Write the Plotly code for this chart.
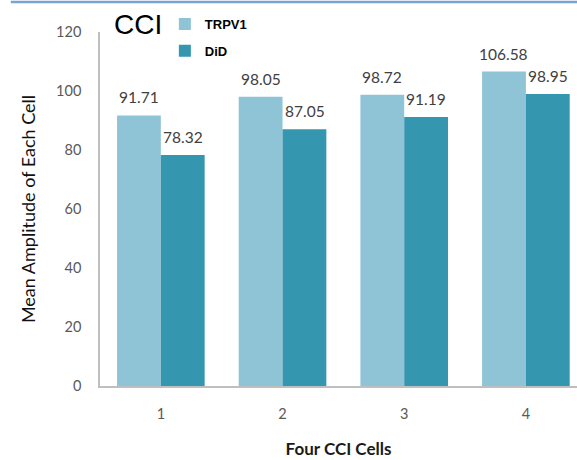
import plotly.graph_objects as go

# Mean amplitude per cell for the four CCI cells
cells = ["1", "2", "3", "4"]
trpv1 = [91.71, 98.05, 98.72, 106.58]
did = [78.32, 87.05, 91.19, 98.95]
y_ticks = [0, 20, 40, 60, 80, 100, 120]

LIGHT = "#8fc4d6"
DARK = "#3596b0"
BODY = "Lato, Carlito, sans-serif"
LABEL_FONT = dict(family=BODY, size=15.5, color="#404040")

fig = go.Figure()
fig.add_trace(go.Bar(
    x=cells, y=trpv1, name="TRPV1", legendgroup="a",
    marker=dict(color=LIGHT, line=dict(width=0)),
))
fig.add_trace(go.Bar(
    x=cells, y=did, name="DiD", legendgroup="b",
    marker=dict(color=DARK, line=dict(width=0)),
))

# value labels above each bar (left bar = TRPV1, right bar = DiD);
# on a category axis annotations are placed by category index
labels = []
for series, shift in ((trpv1, -22), (did, 22)):
    for i, v in enumerate(series):
        labels.append(dict(
            x=i, y=v, xref="x", yref="y", text=f"{v:.2f}",
            showarrow=False, xanchor="center", yanchor="bottom",
            xshift=shift, yshift=7, font=LABEL_FONT,
        ))

labels.append(dict(
    text="CCI", xref="paper", yref="paper", x=0.025, y=1.02,
    xanchor="left", yanchor="middle", showarrow=False,
    font=dict(family="Liberation Sans, Arial, sans-serif", size=28, color="black"),
))

fig.update_layout(
    width=577, height=460,
    margin=dict(l=100, r=0, t=32, b=74),
    paper_bgcolor="white", plot_bgcolor="white",
    barmode="group", bargap=0.28, bargroupgap=0,
    showlegend=True,
    legend=dict(
        x=0.136, y=1.065, xanchor="left", yanchor="top",
        font=dict(family="Liberation Sans, Arial, sans-serif", size=13, color="black", weight="bold"),
        bgcolor="rgba(0,0,0,0)", tracegroupgap=7, traceorder="grouped",
        itemwidth=30,
    ),
    xaxis=dict(
        type="category", range=[-0.5, 3.42],
        showline=True, linecolor="#bfbfbf", linewidth=1.5,
        showgrid=False, ticks="", ticklabelstandoff=14,
        tickfont=dict(family=BODY, size=14.5, color="#595959"),
        title=dict(text="Four CCI Cells", standoff=22,
                   font=dict(family=BODY, size=17, color="#1a1a1a", weight="bold")),
    ),
    yaxis=dict(
        range=[0, 120], tickvals=y_ticks,
        showline=True, linecolor="#bfbfbf", linewidth=1.5,
        showgrid=False, zeroline=False, ticks="", ticklabelstandoff=14,
        tickfont=dict(family=BODY, size=14.5, color="#595959"),
        title=dict(text="Mean Amplitude of Each Cell", standoff=16,
                   font=dict(family=BODY, size=18, color="#111111")),
    ),
    annotations=labels,
    shapes=[dict(
        type="line", xref="paper", yref="paper",
        x0=-0.187, x1=1.0, y0=1.085, y1=1.085,
        line=dict(color="#7aa2d6", width=2.5),
    )],
)

fig.write_html("out.html")
